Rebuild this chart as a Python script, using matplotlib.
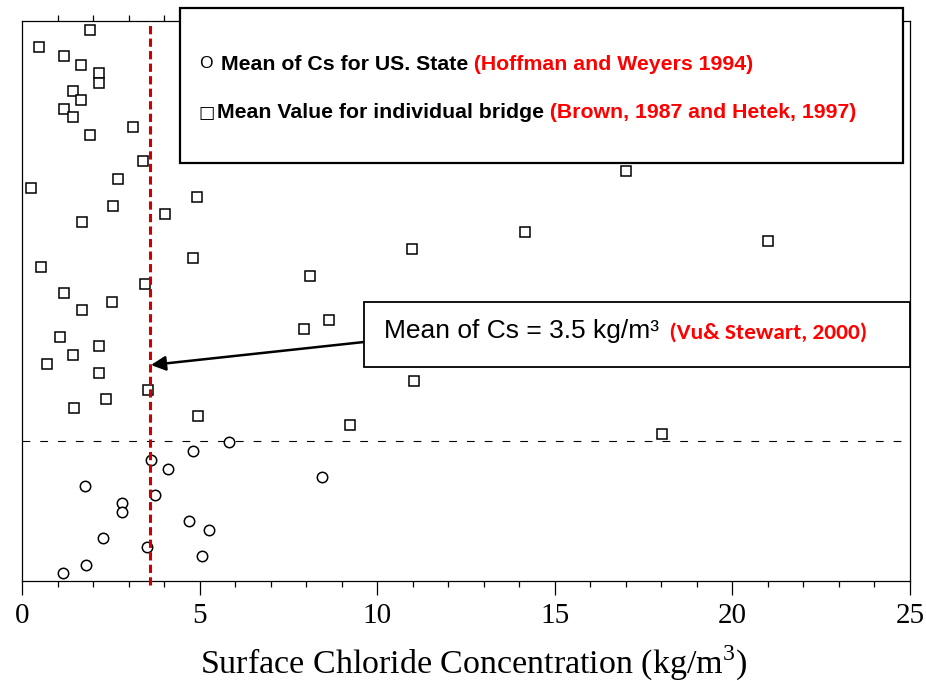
import matplotlib
matplotlib.use('Agg')
import matplotlib.pyplot as plt
from matplotlib.patches import Rectangle
from matplotlib.ticker import MultipleLocator

plt.rcParams['mathtext.fontset'] = 'custom'
plt.rcParams['mathtext.rm'] = 'Liberation Serif'

# Mean value for individual bridges (x = Cs in kg/m3, y = rank height, no scale on the axis)
bridge_x = [1.91, 0.48, 1.19, 1.67, 2.17, 2.17, 1.44, 1.67, 1.19, 1.44, 3.13, 1.91,
            3.41, 17.00, 2.70, 0.24, 4.93, 2.55, 4.02, 1.69, 14.16, 20.99, 10.99, 4.81,
            0.53, 8.10, 3.46, 1.19, 2.53, 1.68, 8.64, 7.93, 1.08, 2.17, 1.44, 0.70,
            2.17, 11.04, 3.55, 2.36, 1.46, 4.95, 9.24, 18.01]
bridge_y = [551, 534, 525, 516.3, 508, 498.3, 489.7, 481, 472.3, 464, 454.3, 446,
            419.7, 410, 402, 393.3, 383.7, 375.3, 366.7, 358.7, 348.7, 339.7, 331.7, 322.7,
            314.3, 305, 297, 287.7, 278.7, 270.7, 260.7, 252.3, 244, 234.7, 226, 217,
            208.3, 199.7, 191, 182, 173.3, 165, 155.7, 147]

# Mean of Cs for US states
state_x = [5.84, 4.81, 3.62, 4.10, 8.45, 1.77, 3.75, 2.82, 2.82, 4.69, 5.26, 2.28,
           3.53, 5.08, 1.80, 1.16]
state_y = [138.7, 130.3, 121, 112.3, 103.7, 95, 86.3, 77.7, 68.7, 60.3, 51.3, 42.7,
           34, 25, 16, 7.7]

mean_cs = 3.6
split_y = 140.5

W, H = 926, 684
fig = plt.figure(figsize=(W / 100, H / 100), dpi=100)
ax = fig.add_axes([22 / W, 1 - 581 / H, 888 / W, 560 / H])

ax.plot(bridge_x, bridge_y, 's', ms=7.5, mfc='white', mec='black', mew=1.1, zorder=3)
ax.plot(state_x, state_y, 'o', ms=7.5, mfc='white', mec='black', mew=1.1, zorder=3)

ax.axhline(split_y, color='black', lw=0.8, dashes=(7, 9), zorder=2)
ax.axvline(mean_cs, ymin=-0.008, color='#cc0000', lw=2.2, dashes=(2.7, 1.4), zorder=4,
           clip_on=False)

ax.set_xlim(0, 25)
ax.set_ylim(0, 560)
ax.yaxis.set_visible(False)
ax.xaxis.set_major_locator(MultipleLocator(5))
ax.xaxis.set_minor_locator(MultipleLocator(1))
ax.tick_params(axis='x', which='major', direction='out', length=10, width=0.9,
               top=False, labelsize=21, pad=6)
ax.tick_params(axis='x', which='minor', direction='out', length=4.5, width=0.9, top=True)
for s in ax.spines.values():
    s.set_linewidth(0.9)

for lbl in ax.get_xticklabels():
    lbl.set_fontfamily('Liberation Serif')
ax.set_xlabel('Surface Chloride Concentration (kg/m$^3$)', fontsize=24.5,
              fontfamily='Liberation Serif')
ax.xaxis.set_label_coords(0.508, -0.112)

# legend box
fig.add_artist(Rectangle((180 / W, 1 - 163 / H), 723 / W, 155 / H, transform=fig.transFigure,
                         facecolor='white', edgecolor='black', lw=1.6, zorder=5))
sans = ['Liberation Sans', 'DejaVu Sans']
fig.text(199 / W, 1 - 64 / H, 'O', fontsize=12.5, family=sans, va='center', zorder=6)
t1 = fig.text(221 / W, 1 - 64 / H, 'Mean of Cs for US. State', fontsize=15.3, family=sans,
              weight='bold', va='center', zorder=6)
fig.add_artist(plt.Annotation(' (Hoffman and Weyers 1994)', xy=(1, 0.5), xycoords=t1,
                              va='center', fontsize=15.3, family=sans, weight='bold',
                              color='#ff0000', zorder=6))
fig.text(198 / W, 1 - 113 / H, '□', fontsize=12.5, family='DejaVu Sans', va='center', zorder=6)
t2 = fig.text(217 / W, 1 - 113 / H, 'Mean Value for individual bridge', fontsize=15.3, family=sans,
              weight='bold', va='center', zorder=6)
fig.add_artist(plt.Annotation(' (Brown, 1987 and Hetek, 1997)', xy=(1, 0.5), xycoords=t2,
                              va='center', fontsize=15.3, family=sans, weight='bold',
                              color='#ff0000', zorder=6))

# annotation box with arrow to the mean line
fig.add_artist(Rectangle((364 / W, 1 - 367 / H), 546 / W, 65 / H, transform=fig.transFigure,
                         facecolor='white', edgecolor='black', lw=1.3, zorder=5))
t3 = fig.text(384 / W, 1 - 331 / H, 'Mean of Cs = 3.5 kg/m³', fontsize=19, family=sans,
              va='center', zorder=6)
fig.add_artist(plt.Annotation('  (Vu& Stewart, 2000)', xy=(1, 0.45), xycoords=t3,
                              va='center', fontsize=16.8, family=['Carlito', 'Lato', 'DejaVu Sans'],
                              weight='bold', color='#ff0000', zorder=6))
ax.annotate('', xy=(3.63, 216), xytext=(9.63, 239),
            arrowprops=dict(arrowstyle='-|>', color='black', lw=1.8,
                            mutation_scale=22, shrinkA=0, shrinkB=0), zorder=6)

fig.savefig('out.png', dpi=100)
